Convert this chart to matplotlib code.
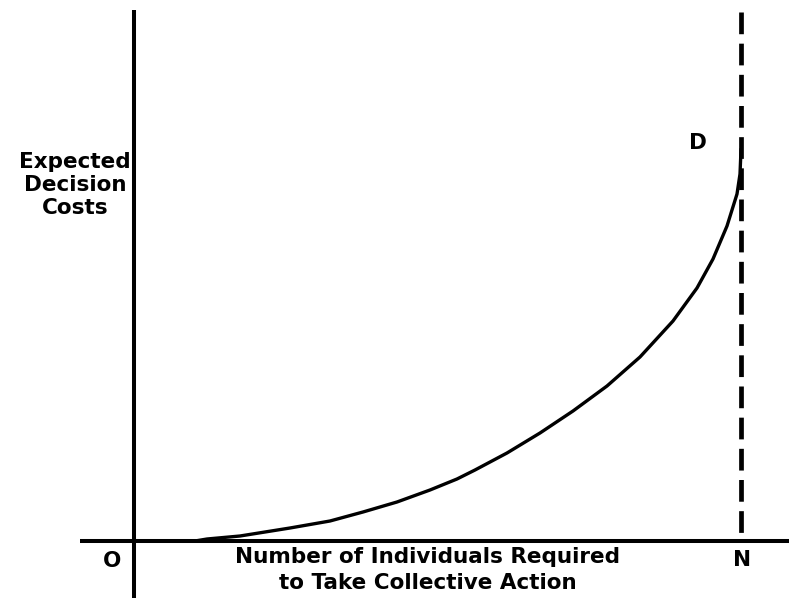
import matplotlib.pyplot as plt

plt.rcParams["font.family"] = ["DejaVu Sans"]

# decision-cost curve traced in canvas pixels (x right, y down)
curve_x = [195, 207, 240, 290, 330, 363, 397, 430, 457, 475, 507, 540, 573,
           607, 640, 673, 697, 713, 727, 737, 740, 741]
curve_y = [541, 539, 536, 528, 521, 512, 502, 490, 479, 470, 453, 433, 411,
           386, 357, 321, 288, 259, 226, 194, 174, 150]

origin_x, origin_y = 134, 541
n_x = 741

fig = plt.figure(figsize=(7.89, 5.98), dpi=100)
ax = fig.add_axes([0, 0, 1, 1])
ax.set_xlim(0, 789)
ax.set_ylim(598, 0)
ax.axis("off")

# axes
ax.plot([origin_x, origin_x], [10, 598], color="black", lw=2.9, solid_capstyle="butt")
ax.plot([80, 789], [origin_y, origin_y], color="black", lw=2.9, solid_capstyle="butt")
# unanimity line at N
ax.plot([n_x, n_x], [12, origin_y], color="black", lw=3.4,
        linestyle=(0, (4.6, 2.0)), solid_capstyle="butt")

ax.plot(curve_x, curve_y, color="black", lw=2.4, solid_joinstyle="round")

bold = dict(fontweight="bold", color="black", fontsize=15.5)
ax.text(75, 185, "Expected\nDecision\nCosts", ha="center", va="center",
        linespacing=1.17, **bold)
ax.text(698, 143, "D", ha="center", va="center", **bold)
ax.text(112, 561, "O", ha="center", va="center", **bold)
ax.text(742, 560, "N", ha="center", va="center", **bold)
ax.text(428, 570, "Number of Individuals Required\nto Take Collective Action",
        ha="center", va="center", linespacing=1.38, **bold)

fig.savefig("out.png", dpi=100)
